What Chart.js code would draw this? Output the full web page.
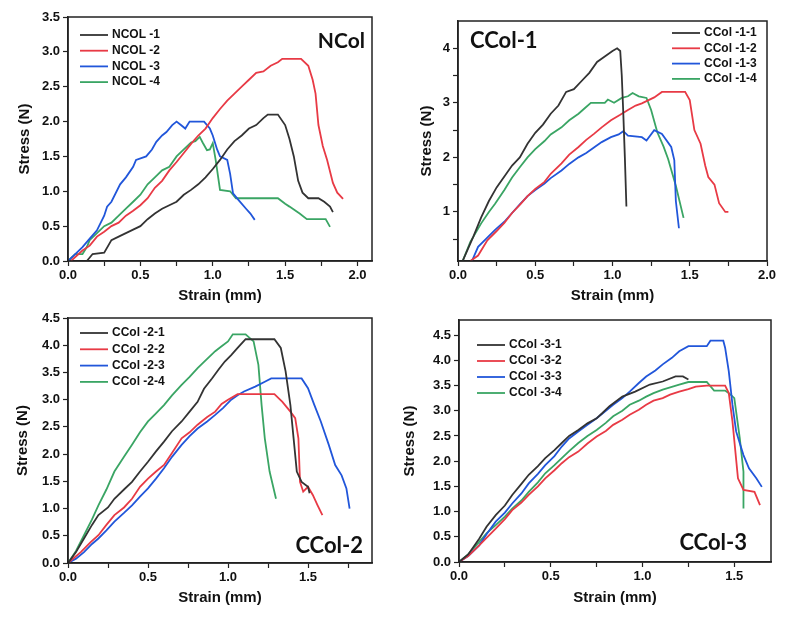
<!DOCTYPE html>
<html>
<head>
<meta charset="utf-8">
<script src="https://cdn.jsdelivr.net/npm/chart.js@4.4.0/dist/chart.umd.min.js"></script>
<style>
  body { margin: 0; background: #fff; width: 787px; height: 617px; position: relative; overflow: hidden; }
  canvas { position: absolute; }
</style>
</head>
<body>
<canvas id="c1" width="390" height="305" style="left:0;top:0"></canvas>
<canvas id="c2" width="392" height="305" style="left:395px;top:0"></canvas>
<canvas id="c3" width="390" height="312" style="left:0;top:305px"></canvas>
<canvas id="c4" width="392" height="312" style="left:395px;top:305px"></canvas>
<script>
// strain (mm), stress (N) pairs
const ncol1 = [[0.13,0],[0.17,0.1],[0.25,0.12],[0.3,0.3],[0.35,0.35],[0.4,0.4],[0.45,0.45],[0.5,0.5],[0.55,0.6],[0.6,0.68],[0.65,0.75],[0.7,0.8],[0.75,0.85],[0.8,0.95],[0.85,1.02],[0.9,1.1],[0.95,1.2],[1.0,1.32],[1.05,1.45],[1.1,1.6],[1.15,1.72],[1.2,1.8],[1.25,1.9],[1.3,1.95],[1.35,2.05],[1.38,2.1],[1.45,2.1],[1.5,1.95],[1.53,1.75],[1.56,1.5],[1.59,1.15],[1.62,0.98],[1.66,0.9],[1.73,0.9],[1.77,0.85],[1.81,0.78],[1.83,0.7]];
const ncol2 = [[0.02,0],[0.1,0.15],[0.15,0.22],[0.2,0.35],[0.25,0.42],[0.3,0.5],[0.35,0.55],[0.4,0.65],[0.45,0.72],[0.5,0.8],[0.55,0.9],[0.6,1.05],[0.65,1.15],[0.7,1.3],[0.75,1.42],[0.8,1.55],[0.85,1.68],[0.9,1.8],[0.95,1.9],[1.0,2.05],[1.05,2.18],[1.1,2.3],[1.15,2.4],[1.2,2.5],[1.25,2.6],[1.3,2.7],[1.35,2.72],[1.4,2.8],[1.45,2.85],[1.48,2.9],[1.61,2.9],[1.66,2.8],[1.69,2.6],[1.71,2.4],[1.73,1.95],[1.76,1.65],[1.79,1.45],[1.83,1.12],[1.86,0.98],[1.9,0.89]];
const ncol3 = [[0,0],[0.05,0.1],[0.1,0.2],[0.15,0.32],[0.2,0.44],[0.25,0.65],[0.27,0.78],[0.3,0.85],[0.36,1.1],[0.4,1.2],[0.45,1.35],[0.47,1.45],[0.54,1.5],[0.58,1.6],[0.61,1.71],[0.65,1.8],[0.68,1.85],[0.72,1.95],[0.75,2.0],[0.78,1.95],[0.81,1.9],[0.84,2.0],[0.94,2.0],[0.98,1.9],[1.0,1.8],[1.03,1.6],[1.05,1.5],[1.1,1.45],[1.12,1.25],[1.14,0.97],[1.18,0.87],[1.23,0.75],[1.26,0.68],[1.29,0.59]];
const ncol4 = [[0,0],[0.05,0.1],[0.1,0.1],[0.13,0.2],[0.15,0.3],[0.2,0.4],[0.25,0.5],[0.3,0.55],[0.35,0.65],[0.4,0.75],[0.45,0.85],[0.5,0.95],[0.55,1.1],[0.6,1.2],[0.65,1.3],[0.7,1.35],[0.75,1.5],[0.8,1.6],[0.85,1.7],[0.88,1.72],[0.91,1.78],[0.93,1.7],[0.96,1.59],[0.98,1.6],[1.0,1.69],[1.02,1.45],[1.05,1.02],[1.12,1.0],[1.16,0.9],[1.45,0.9],[1.5,0.82],[1.53,0.78],[1.6,0.68],[1.65,0.6],[1.78,0.6],[1.81,0.49]];

const ccol11 = [[0.03,0.1],[0.1,0.55],[0.15,0.9],[0.2,1.2],[0.25,1.45],[0.3,1.65],[0.35,1.85],[0.4,2.0],[0.45,2.25],[0.5,2.45],[0.55,2.6],[0.6,2.8],[0.65,2.95],[0.7,3.2],[0.75,3.25],[0.8,3.4],[0.85,3.55],[0.9,3.75],[0.95,3.85],[1.0,3.95],[1.03,4.0],[1.05,3.95],[1.06,3.5],[1.07,2.8],[1.08,2.0],[1.09,1.1]];
const ccol12 = [[0.08,0.1],[0.13,0.2],[0.19,0.48],[0.25,0.65],[0.3,0.8],[0.35,0.98],[0.4,1.13],[0.45,1.29],[0.5,1.42],[0.56,1.55],[0.6,1.7],[0.67,1.89],[0.72,2.05],[0.78,2.19],[0.83,2.32],[0.88,2.43],[0.93,2.55],[0.99,2.68],[1.05,2.78],[1.1,2.87],[1.15,2.95],[1.19,2.99],[1.27,3.1],[1.32,3.2],[1.47,3.2],[1.5,3.05],[1.53,2.5],[1.57,2.25],[1.6,1.85],[1.62,1.64],[1.66,1.5],[1.69,1.16],[1.73,1.0],[1.75,1.0]];
const ccol13 = [[0.09,0.1],[0.13,0.36],[0.18,0.5],[0.24,0.67],[0.3,0.82],[0.35,0.98],[0.4,1.14],[0.45,1.29],[0.5,1.4],[0.56,1.52],[0.6,1.62],[0.67,1.76],[0.72,1.88],[0.78,2.0],[0.83,2.08],[0.88,2.18],[0.93,2.28],[0.99,2.37],[1.04,2.42],[1.07,2.48],[1.1,2.4],[1.19,2.37],[1.22,2.31],[1.27,2.5],[1.32,2.43],[1.38,2.19],[1.4,1.95],[1.41,1.2],[1.43,0.7]];
const ccol14 = [[0.03,0.1],[0.08,0.45],[0.15,0.79],[0.2,1.0],[0.24,1.15],[0.3,1.4],[0.35,1.63],[0.4,1.82],[0.45,2.0],[0.5,2.15],[0.56,2.3],[0.6,2.42],[0.67,2.55],[0.72,2.68],[0.78,2.8],[0.82,2.9],[0.86,3.0],[0.95,3.0],[0.97,3.06],[1.01,3.0],[1.06,3.09],[1.1,3.12],[1.13,3.18],[1.17,3.12],[1.22,3.09],[1.25,2.87],[1.29,2.46],[1.33,2.2],[1.36,1.97],[1.41,1.48],[1.46,0.89]];

const ccol21 = [[0,0],[0.05,0.2],[0.1,0.45],[0.15,0.7],[0.19,0.88],[0.25,1.02],[0.29,1.18],[0.35,1.35],[0.4,1.49],[0.45,1.68],[0.5,1.86],[0.55,2.05],[0.6,2.23],[0.65,2.42],[0.71,2.6],[0.76,2.78],[0.81,2.96],[0.85,3.2],[0.9,3.39],[0.94,3.55],[0.98,3.7],[1.02,3.82],[1.06,3.95],[1.11,4.11],[1.29,4.11],[1.33,3.95],[1.36,3.52],[1.39,2.9],[1.41,2.29],[1.43,1.68],[1.46,1.49],[1.5,1.4],[1.51,1.28]];
const ccol22 = [[0,0],[0.08,0.2],[0.14,0.38],[0.19,0.51],[0.24,0.7],[0.29,0.88],[0.35,1.02],[0.4,1.18],[0.45,1.4],[0.5,1.55],[0.55,1.68],[0.6,1.8],[0.65,2.02],[0.71,2.29],[0.76,2.4],[0.81,2.54],[0.87,2.68],[0.92,2.78],[0.96,2.92],[1.0,3.0],[1.06,3.1],[1.29,3.1],[1.34,2.96],[1.39,2.78],[1.42,2.66],[1.44,2.29],[1.45,1.49],[1.47,1.31],[1.5,1.4],[1.53,1.25],[1.56,1.06],[1.59,0.88]];
const ccol23 = [[0,0],[0.05,0.08],[0.1,0.2],[0.15,0.35],[0.19,0.45],[0.24,0.6],[0.29,0.76],[0.35,0.92],[0.4,1.06],[0.45,1.22],[0.5,1.37],[0.55,1.55],[0.6,1.74],[0.65,1.95],[0.71,2.17],[0.76,2.33],[0.81,2.47],[0.87,2.6],[0.92,2.72],[0.97,2.85],[1.02,3.0],[1.06,3.08],[1.1,3.15],[1.17,3.24],[1.23,3.33],[1.27,3.39],[1.46,3.39],[1.5,3.21],[1.54,2.9],[1.58,2.6],[1.63,2.17],[1.67,1.8],[1.71,1.61],[1.74,1.37],[1.76,1.0]];
const ccol24 = [[0,0],[0.05,0.22],[0.1,0.51],[0.15,0.8],[0.19,1.06],[0.24,1.35],[0.29,1.68],[0.35,1.95],[0.4,2.17],[0.45,2.4],[0.5,2.6],[0.55,2.75],[0.6,2.9],[0.65,3.08],[0.71,3.27],[0.76,3.42],[0.81,3.58],[0.86,3.72],[0.92,3.89],[0.96,3.98],[1.0,4.07],[1.03,4.2],[1.11,4.2],[1.16,4.07],[1.19,3.64],[1.21,2.9],[1.23,2.29],[1.26,1.68],[1.3,1.18]];

const ccol31 = [[0,0],[0.05,0.15],[0.11,0.46],[0.15,0.7],[0.2,0.93],[0.25,1.12],[0.29,1.33],[0.34,1.55],[0.38,1.73],[0.43,1.9],[0.47,2.06],[0.52,2.22],[0.56,2.36],[0.6,2.5],[0.65,2.62],[0.7,2.75],[0.75,2.85],[0.78,2.95],[0.82,3.09],[0.89,3.28],[0.96,3.38],[1.04,3.52],[1.11,3.58],[1.18,3.68],[1.22,3.68],[1.25,3.62]];
const ccol32 = [[0,0],[0.05,0.12],[0.11,0.33],[0.15,0.48],[0.2,0.66],[0.25,0.85],[0.29,1.03],[0.34,1.18],[0.38,1.33],[0.43,1.5],[0.47,1.66],[0.52,1.82],[0.56,1.96],[0.6,2.08],[0.65,2.19],[0.7,2.35],[0.75,2.49],[0.8,2.6],[0.84,2.72],[0.89,2.82],[0.93,2.92],[0.98,3.02],[1.02,3.12],[1.06,3.2],[1.11,3.25],[1.15,3.32],[1.2,3.38],[1.25,3.43],[1.29,3.48],[1.35,3.5],[1.45,3.5],[1.47,3.35],[1.49,2.79],[1.52,1.66],[1.55,1.43],[1.61,1.39],[1.64,1.13]];
const ccol33 = [[0,0],[0.05,0.12],[0.11,0.33],[0.15,0.55],[0.2,0.8],[0.25,0.98],[0.29,1.16],[0.34,1.36],[0.38,1.56],[0.43,1.75],[0.47,1.92],[0.52,2.1],[0.56,2.29],[0.6,2.45],[0.65,2.59],[0.7,2.72],[0.75,2.85],[0.8,3.0],[0.84,3.12],[0.89,3.25],[0.93,3.38],[0.98,3.55],[1.02,3.68],[1.07,3.8],[1.11,3.92],[1.16,4.05],[1.2,4.18],[1.25,4.28],[1.35,4.28],[1.37,4.39],[1.44,4.39],[1.45,4.25],[1.47,3.78],[1.49,3.12],[1.51,2.59],[1.55,2.12],[1.58,1.86],[1.62,1.66],[1.65,1.49]];
const ccol34 = [[0,0],[0.05,0.15],[0.11,0.4],[0.15,0.57],[0.2,0.73],[0.25,0.9],[0.29,1.06],[0.34,1.22],[0.38,1.39],[0.43,1.58],[0.47,1.76],[0.52,1.92],[0.56,2.06],[0.6,2.2],[0.65,2.36],[0.7,2.5],[0.75,2.62],[0.8,2.76],[0.84,2.89],[0.89,3.0],[0.93,3.12],[0.98,3.2],[1.02,3.28],[1.06,3.35],[1.11,3.42],[1.2,3.52],[1.25,3.57],[1.35,3.57],[1.39,3.4],[1.45,3.4],[1.48,3.32],[1.5,3.25],[1.53,2.45],[1.55,1.79],[1.55,1.06]];

// tick positions (minor ticks get no label)
const xTicks1 = [0, 0.25, 0.5, 0.75, 1, 1.25, 1.5, 1.75, 2];
const xLabels1 = [0, 0.5, 1, 1.5, 2];
const yTicks1 = [0, 0.5, 1, 1.5, 2, 2.5, 3, 3.5];
const xTicks2 = [0, 0.25, 0.5, 0.75, 1, 1.25, 1.5, 1.75, 2];
const yTicks2 = [0.5, 1, 1.5, 2, 2.5, 3, 3.5, 4];
const yLabels2 = [1, 2, 3, 4];
const xTicks3 = [0, 0.25, 0.5, 0.75, 1, 1.25, 1.5, 1.75];
const xLabels3 = [0, 0.5, 1, 1.5];
const yTicks3 = [0, 0.5, 1, 1.5, 2, 2.5, 3, 3.5, 4, 4.5];
const xTicks4 = [0, 0.25, 0.5, 0.75, 1, 1.25, 1.5];

const colors = ['#333333', '#e83a45', '#2156da', '#3aa564'];
const AX = '#222';

// frame, inline legend and panel name
const deco = {
  id: 'deco',
  afterDatasetsDraw(chart, args, o) {
    const { ctx, chartArea: a } = chart;
    ctx.save();
    ctx.strokeStyle = AX;
    ctx.lineWidth = 1.5;
    ctx.strokeRect(a.left, a.top, a.right - a.left, a.bottom - a.top);
    ctx.font = 'bold 12px "Liberation Sans", Arial, sans-serif';
    ctx.textBaseline = 'middle';
    ctx.textAlign = 'left';
    chart.data.datasets.forEach((ds, i) => {
      const y = o.legendY + i * o.legendGap;
      ctx.strokeStyle = ds.borderColor;
      ctx.lineWidth = 1.8;
      ctx.beginPath();
      ctx.moveTo(o.legendX, y);
      ctx.lineTo(o.legendX + 28, y);
      ctx.stroke();
      ctx.fillStyle = '#111';
      ctx.fillText(ds.label, o.legendX + 32, y);
    });
    ctx.font = 'bold ' + o.labelSize + 'px Lato, "Open Sans", sans-serif';
    ctx.textAlign = o.align;
    ctx.fillStyle = '#111';
    ctx.fillText(o.label, o.labelX, o.labelY);
    ctx.restore();
  }
};

const tickFont = { family: '"Liberation Sans", Arial, sans-serif', size: 13, weight: 'bold' };
const titleFont = { family: '"Liberation Sans", Arial, sans-serif', size: 15, weight: 'bold' };

function panel(id, p) {
  const cv = document.getElementById(id);
  const W = cv.width, H = cv.height;
  new Chart(cv, {
    type: 'line',
    data: {
      datasets: p.series.map((s, i) => ({
        label: s[0],
        data: s[1].map(d => ({ x: d[0], y: d[1] })),
        borderColor: colors[i],
        borderWidth: 1.8,
        pointRadius: 0,
        tension: 0,
        fill: false
      }))
    },
    options: {
      responsive: false,
      animation: false,
      events: [],
      layout: { padding: { left: 0, top: p.box[1], right: W - p.box[2], bottom: 0 } },
      plugins: {
        legend: { display: false },
        tooltip: { enabled: false },
        deco: p.deco
      },
      scales: {
        x: {
          type: 'linear',
          min: 0,
          max: p.xMax,
          afterBuildTicks: s => { s.ticks = p.xTicks.map(v => ({ value: v })); },
          afterFit: s => { s.height = H - p.box[3]; },
          ticks: {
            autoSkip: false, maxRotation: 0, padding: 2, color: '#111', font: tickFont,
            callback: v => p.xLabels.includes(v) ? v.toFixed(1) : ''
          },
          grid: { drawOnChartArea: false, drawTicks: true, tickLength: 5, tickColor: AX, tickWidth: 1.2 },
          border: { color: AX, width: 1.5 },
          title: { display: true, text: 'Strain (mm)', color: '#111', font: titleFont, padding: { top: 0, bottom: p.xTitlePad } }
        },
        y: {
          min: p.yMin,
          max: p.yMax,
          afterBuildTicks: s => { s.ticks = p.yTicks.map(v => ({ value: v })); },
          afterFit: s => { s.width = p.box[0]; },
          ticks: {
            autoSkip: false, padding: 3, color: '#111', font: tickFont,
            callback: v => p.yLabels.includes(v) ? p.yFmt(v) : ''
          },
          grid: { drawOnChartArea: false, drawTicks: true, tickLength: 5, tickColor: AX, tickWidth: 1.2 },
          border: { color: AX, width: 1.5 },
          title: { display: true, text: 'Stress (N)', color: '#111', font: titleFont, padding: { top: p.yTitlePad, bottom: 0 } }
        }
      }
    },
    plugins: [deco]
  });
}

const fmt1 = v => v.toFixed(1);

panel('c1', {
  series: [['NCOL -1', ncol1], ['NCOL -2', ncol2], ['NCOL -3', ncol3], ['NCOL -4', ncol4]],
  box: [68, 17, 372, 261],
  xMax: 2.1, xTicks: xTicks1, xLabels: xLabels1,
  yMin: 0, yMax: 3.5, yTicks: yTicks1, yLabels: yTicks1, yFmt: fmt1,
  xTitlePad: 0, yTitlePad: 16,
  deco: { legendX: 80, legendY: 35, legendGap: 15.7, label: 'NCol', labelSize: 21, align: 'right', labelX: 365, labelY: 41 }
});

panel('c2', {
  series: [['CCol -1-1', ccol11], ['CCol -1-2', ccol12], ['CCol -1-3', ccol13], ['CCol -1-4', ccol14]],
  box: [63, 21, 372, 261],
  xMax: 2.0, xTicks: xTicks2, xLabels: xLabels1,
  yMin: 0.1, yMax: 4.5, yTicks: yTicks2, yLabels: yLabels2, yFmt: v => String(v),
  xTitlePad: 0, yTitlePad: 23,
  deco: { legendX: 277, legendY: 33, legendGap: 15.3, label: 'CCol-1', labelSize: 22, align: 'left', labelX: 75, labelY: 41 }
});

panel('c3', {
  series: [['CCol -2-1', ccol21], ['CCol -2-2', ccol22], ['CCol -2-3', ccol23], ['CCol -2-4', ccol24]],
  box: [68, 13, 372, 258],
  xMax: 1.9, xTicks: xTicks3, xLabels: xLabels3,
  yMin: 0, yMax: 4.5, yTicks: yTicks3, yLabels: yTicks3, yFmt: fmt1,
  xTitlePad: 10, yTitlePad: 14,
  deco: { legendX: 80, legendY: 28, legendGap: 16.3, label: 'CCol-2', labelSize: 22, align: 'right', labelX: 363, labelY: 241 }
});

panel('c4', {
  series: [['CCol -3-1', ccol31], ['CCol -3-2', ccol32], ['CCol -3-3', ccol33], ['CCol -3-4', ccol34]],
  box: [64, 15, 376, 257],
  xMax: 1.7, xTicks: xTicks4, xLabels: xLabels3,
  yMin: 0, yMax: 4.8, yTicks: yTicks3, yLabels: yTicks3, yFmt: fmt1,
  xTitlePad: 10, yTitlePad: 6,
  deco: { legendX: 82, legendY: 40, legendGap: 16, label: 'CCol-3', labelSize: 22, align: 'right', labelX: 352, labelY: 238 }
});
</script>
</body>
</html>
